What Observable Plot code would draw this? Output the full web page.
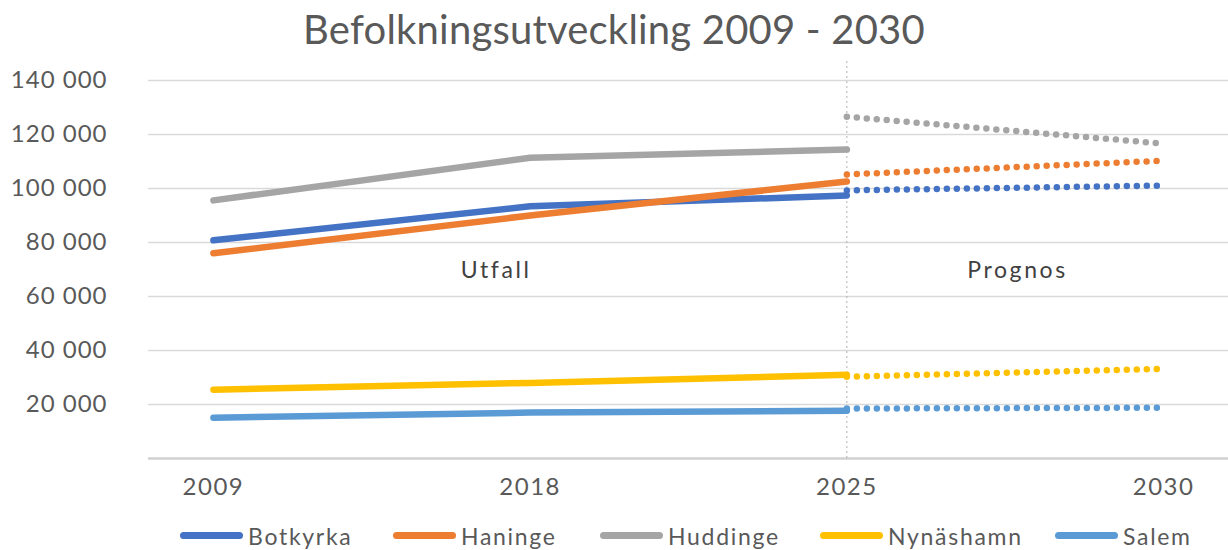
<!DOCTYPE html>
<html>
<head>
<meta charset="utf-8">
<script src="https://cdn.jsdelivr.net/npm/d3@7"></script>
<script src="https://cdn.jsdelivr.net/npm/@observablehq/plot@0.6"></script>
<style>
  html, body { margin: 0; padding: 0; background: #fff; }
  body { width: 1228px; height: 550px; overflow: hidden; font-family: Lato, "Open Sans", sans-serif; }
  #title { height: 60px; line-height: 58px; text-align: center; font-size: 40px; font-weight: 400; color: #595959; letter-spacing: 0.2px; }
  #legend { position: relative; height: 35px; margin-top: 3px; }
  .item { position: absolute; top: 0; display: flex; align-items: center; height: 35px; font-size: 23px; color: #595959; letter-spacing: 1.7px; }
  .sw { width: 63px; height: 7px; border-radius: 3.5px; margin-right: 5px; }
  svg g[aria-label="x-axis tick label"] text { letter-spacing: 1.5px; }
  svg g[aria-label="y-axis tick label"] text { letter-spacing: 1px; }
  svg g[aria-label="text"] text { letter-spacing: 2.6px; }
</style>
</head>
<body>
<div id="title">Befolkningsutveckling 2009 - 2030</div>
<div id="chart"></div>
<div id="legend"></div>
<script>
const years = ["2009", "2018", "2025", "2030"];
const utfallYears = ["2009", "2018", "2025"];
const prognosYears = ["2025", "2030"];
const kommuner = ["Botkyrka", "Haninge", "Huddinge", "Nynäshamn", "Salem"];
const colors = ["#4472C4", "#ED7D31", "#A5A5A5", "#FFC000", "#5B9BD5"];

const botkyrkaUtfall = [80800, 93400, 97400];
const haningeUtfall = [76000, 90000, 102600];
const huddingeUtfall = [95600, 111400, 114400];
const nynashamnUtfall = [25500, 28000, 31000];
const salemUtfall = [15100, 17000, 17700];

const botkyrkaPrognos = [99300, 101100];
const haningePrognos = [105200, 110300];
const huddingePrognos = [126600, 116600];
const nynashamnPrognos = [30300, 33200];
const salemPrognos = [18500, 18800];

const yTicks = [20000, 40000, 60000, 80000, 100000, 120000, 140000];
const periodLabels = ["Utfall", "Prognos"];
const legendLeft = [180, 393, 600, 820, 1055];

const utfallSeries = [botkyrkaUtfall, haningeUtfall, huddingeUtfall, nynashamnUtfall, salemUtfall];
const prognosSeries = [botkyrkaPrognos, haningePrognos, huddingePrognos, nynashamnPrognos, salemPrognos];

const utfallRows = kommuner.flatMap((k, i) => utfallYears.map((yr, j) => ({kommun: k, year: yr, value: utfallSeries[i][j]})));
const prognosRows = kommuner.flatMap((k, i) => prognosYears.map((yr, j) => ({kommun: k, year: yr, value: prognosSeries[i][j]})));

const fmt = d => d3.format(",")(d).replace(/,/g, " ");

const chart = Plot.plot({
  width: 1228,
  height: 455,
  marginLeft: 148,
  marginRight: 0,
  marginTop: 20,
  marginBottom: 57,
  style: {fontFamily: "Lato, 'Open Sans', sans-serif", color: "#595959", background: "white"},
  x: {type: "point", domain: years, padding: 0.205, round: false},
  y: {domain: [0, 140000]},
  color: {domain: kommuner, range: colors},
  marks: [
    Plot.ruleY(yTicks, {stroke: "#d9d9d9", strokeWidth: 1.5}),
    Plot.ruleY([0], {stroke: "#d0d0d0", strokeWidth: 2.5}),
    Plot.ruleX(["2025"], {y1: 0, y2: 147500, stroke: "#b0b0b0", strokeWidth: 1, strokeDasharray: "2,3"}),
    Plot.axisY(yTicks, {tickSize: 0, tickPadding: 41, tickFormat: fmt, fontSize: 24, label: null}),
    Plot.axisX({tickSize: 0, tickPadding: 19, fontSize: 24, label: null}),
    Plot.line(utfallRows, {x: "year", y: "value", z: "kommun", stroke: "kommun", strokeWidth: 6.5, strokeLinecap: "round"}),
    Plot.line(prognosRows, {x: "year", y: "value", z: "kommun", stroke: "kommun", strokeWidth: 6.5, strokeLinecap: "round", strokeDasharray: "0,10"}),
    Plot.text([periodLabels[0]], {x: () => "2018", y: () => 69500, dx: -34, text: d => d, fontSize: 23, fill: "#404040"}),
    Plot.text([periodLabels[1]], {x: () => "2030", y: () => 69500, dx: -146, text: d => d, fontSize: 23, fill: "#404040"})
  ]
});
document.getElementById("chart").appendChild(chart);

const legend = document.getElementById("legend");
kommuner.forEach((k, i) => {
  const item = document.createElement("div");
  item.className = "item";
  item.style.left = legendLeft[i] + "px";
  const sw = document.createElement("div");
  sw.className = "sw";
  sw.style.background = colors[i];
  const label = document.createElement("span");
  label.textContent = k;
  item.appendChild(sw);
  item.appendChild(label);
  legend.appendChild(item);
});
</script>
</body>
</html>
